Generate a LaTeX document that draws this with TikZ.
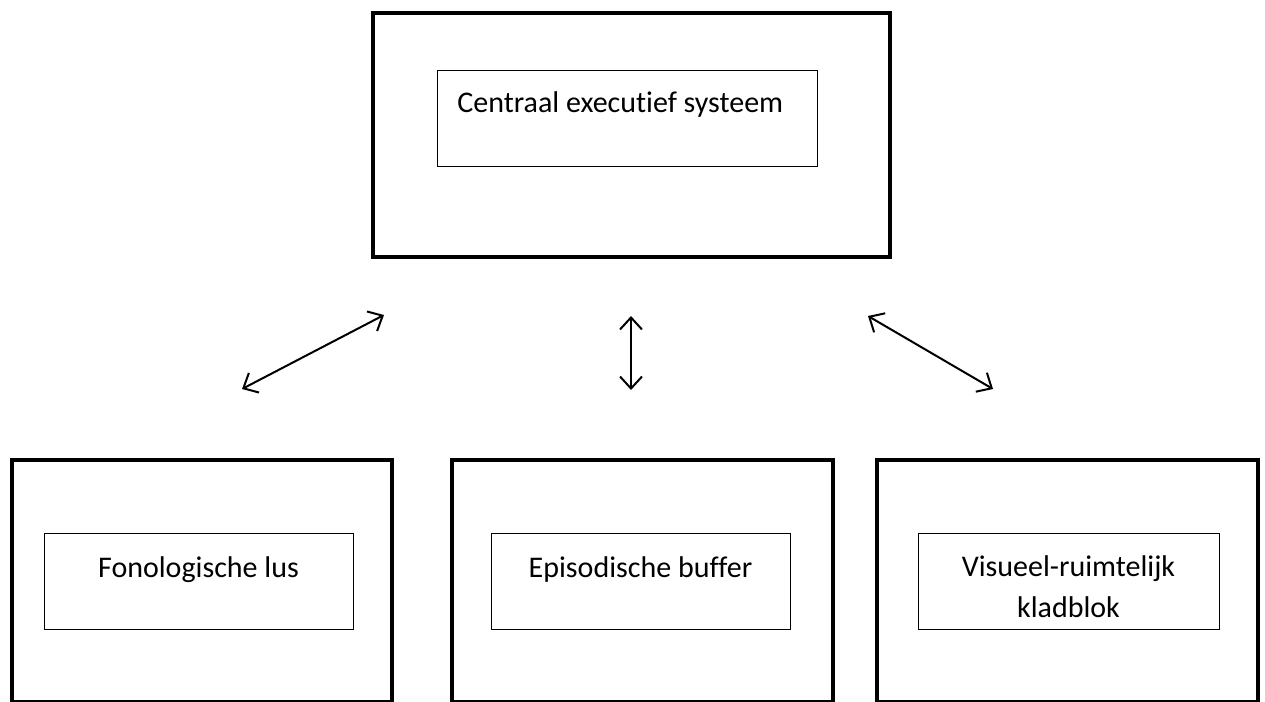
\documentclass[tikz,border=0pt]{standalone}
\usepackage{fontspec}
\setmainfont{Carlito}[Ligatures={NoCommon}]
\usetikzlibrary{arrows.meta}
\tikzset{
  outerbox/.style={draw, line width=2pt, inner sep=0pt, minimum width=#1},
  innerbox/.style={draw, line width=0.5pt, inner sep=0pt, minimum width=#1, minimum height=48pt},
  lbl/.style={font=\fontsize{15}{20.5}\selectfont, inner sep=0pt, align=center},
  link/.style={line width=1pt, {Straight Barb[length=6pt,width=11pt]}-{Straight Barb[length=6pt,width=11pt]}}
}
\begin{document}
\begin{tikzpicture}[x=0.5pt,y=-0.5pt]
\useasboundingbox (0,0) rectangle (1265,702);
% top
\node[outerbox=258.5pt, minimum height=122pt] (ces) at (631.5,135) {};
\node[innerbox=190pt] (cesin) at (627,118) {};
\node[lbl, anchor=base west] (cest) at (457,112) {Centraal executief systeem};
% bottom outer
\node[outerbox=190pt, minimum height=121pt] (fl) at (202,580.5) {};
\node[outerbox=190.5pt, minimum height=121pt] (eb) at (642.5,580.5) {};
\node[outerbox=190.5pt, minimum height=121pt] (vr) at (1067.5,580.5) {};
% bottom inner
\node[innerbox=154.5pt] (flin) at (198.5,581) {};
\node[innerbox=149.5pt] (ebin) at (640.5,581) {};
\node[innerbox=150.5pt] (vrin) at (1068.5,581) {};
% labels
\node[lbl, anchor=base] (flt) at (198.5,577) {Fonologische lus};
\node[lbl, anchor=base] (ebt) at (640.5,577) {Episodische buffer};
\node[lbl, anchor=base] (vrt1) at (1068.5,576) {Visueel-ruimtelijk};
\node[lbl, anchor=base] (vrt2) at (1068.5,617) {kladblok};
% arrow ends
\coordinate (a1) at (242,389);
\coordinate (a2) at (384,315);
\coordinate (b1) at (631,316);
\coordinate (b2) at (631,390);
\coordinate (c1) at (868,316);
\coordinate (c2) at (993,389);
\draw[link] (a1) -- (a2);
\draw[link] (b1) -- (b2);
\draw[link] (c1) -- (c2);
\end{tikzpicture}
\end{document}
